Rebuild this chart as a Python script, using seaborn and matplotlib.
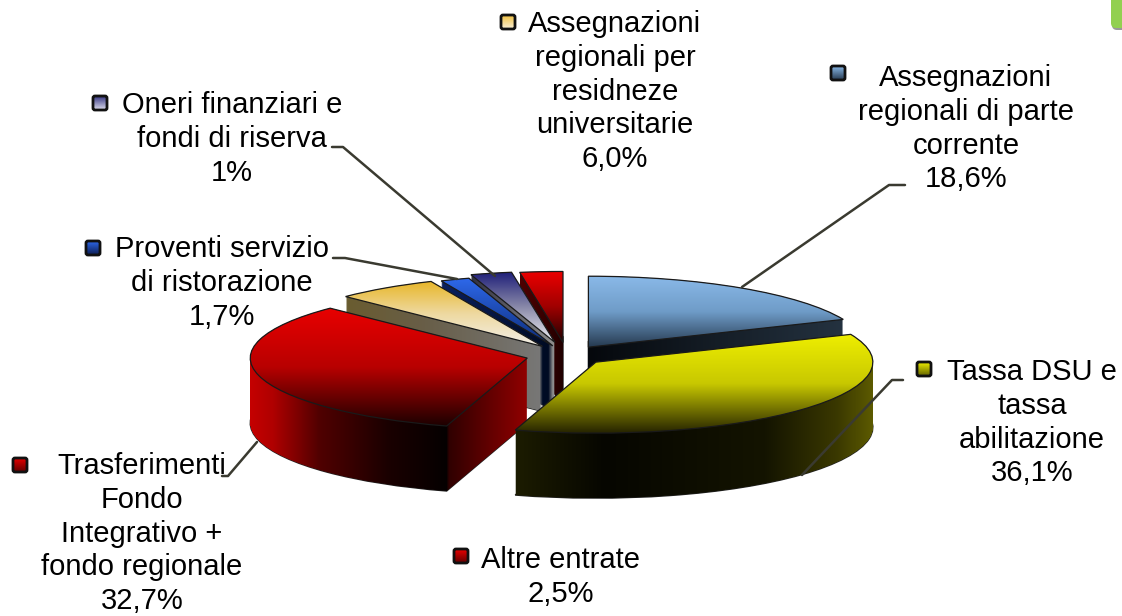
import numpy as np
import seaborn as sns
import matplotlib.pyplot as plt
from matplotlib.colors import LinearSegmentedColormap
from matplotlib.patches import PathPatch, FancyBboxPatch
from matplotlib.path import Path
from matplotlib.transforms import Affine2D

# dati (Oneri: etichetta 1%, ma la fetta disegnata vale circa 2,4)
categories = ['Assegnazioni regionali di parte corrente', 'Tassa DSU e tassa abilitazione',
              'Trasferimenti Fondo Integrativo + fondo regionale',
              'Assegnazioni regionali per residneze universitarie', 'Proventi servizio di ristorazione',
              'Oneri finanziari e fondi di riserva', 'Altre entrate']
values = [18.6, 36.1, 32.7, 6.0, 1.7, 2.4, 2.5]
value_labels = ['18,6%', '36,1%', '32,7%', '6,0%', '1,7%', '1%', '2,5%']
explode = [0.14, 0.14, 0.148, 0.155, 0.145, 0.19, 0.184]

# colori: (alto, basso) della faccia superiore e stop orizzontali del fianco
top_colors = [['#8ab9e8', '#6f9cc8', '#263a50'], ['#eeee00', '#c8c800', '#262400'], ['#e80000', '#b80000', '#1c0000'],
              ['#e8b628', '#eed9a0', '#f3efe8'], ['#2e68ea', '#0c2c78'], ['#1c1c78', '#8888a8', '#eeeef2'],
              ['#ec0000', '#a00000', '#200000']]
wall_colors = [[(0, '#05080c'), (1, '#243240')],
               [(0, '#1c1c00'), (.25, '#060600'), (.7, '#141400'), (.9, '#3a3800'), (1, '#5c5a00')],
               [(0, '#c40000'), (.08, '#b00000'), (.25, '#500000'), (.5, '#1a0000'), (.71, '#050000'),
                (.72, '#300000'), (1, '#900000')],
               [(0, '#6a5c30'), (.4, '#685e48'), (1, '#787878')],
               [(0, '#0a2060'), (1, '#000a20')], [(0, '#303040'), (1, '#909090')], [(0, '#500000'), (1, '#200000')]]
paint_order = [6, 5, 4, 3, 0, 2, 1]

W, H = 1122, 616
cx, cy, rx, ry, depth = 567, 355.5, 277, 71, 65

sns.set_theme(style='white')
plt.rcParams['font.family'] = ['Liberation Sans', 'DejaVu Sans']

fig = plt.figure(figsize=(W / 100, H / 100), dpi=100)
ax = fig.add_axes([0, 0, 1, 1])
wedges, _ = ax.pie(values, explode=explode, radius=1, startangle=90, counterclock=False)


def gradient(axis, cmap, box, horizontal, clip=None, z=1):
    g = np.linspace(0, 1, 256)
    g = g[None, :] if horizontal else g[:, None]
    im = axis.imshow(g, cmap=cmap, extent=box, origin='upper', aspect='auto', zorder=z, vmin=0, vmax=1)
    if clip is not None:
        im.set_clip_path(PathPatch(clip, transform=axis.transData, fc='none', ec='none'))
    return im


for i, k in enumerate(paint_order):
    w = wedges[k]
    top = w.get_patch_transform().transform_path(w.get_path())
    layers = [top.transformed(Affine2D().translate(0, -d / ry)) for d in range(depth + 1)]
    solid = Path.make_compound_path(*layers)
    z = 10 * i + 10
    ax.add_patch(PathPatch(layers[-1], fc='none', ec='#222222', lw=1.0, zorder=z))
    e = solid.get_extents()
    gradient(ax, LinearSegmentedColormap.from_list('w%d' % k, wall_colors[k]),
             (e.x0, e.x1, e.y0, e.y1), True, solid, z + 1)
    e = top.get_extents()
    gradient(ax, sns.blend_palette(top_colors[k], as_cmap=True), (e.x0, e.x1, e.y0, e.y1), False, top, z + 2)
    w.set_facecolor('none')
    w.set_edgecolor('#1a1a1a')
    w.set_linewidth(0.9)
    w.set_zorder(z + 3)

ax.set_aspect('auto')
ax.set_xlim(-cx / rx, (W - cx) / rx)
ax.set_ylim((cy - H) / ry, cy / ry)
ax.axis('off')

# sopra: etichette, linee guida e quadratini, in pixel
ov = fig.add_axes([0, 0, 1, 1], zorder=5)
ov.patch.set_alpha(0)

label_text = ['Assegnazioni\nregionali di parte\ncorrente\n', 'Tassa DSU e\ntassa\nabilitazione\n',
              'Trasferimenti\nFondo\nIntegrativo +\nfondo regionale\n', 'Assegnazioni\nregionali per\nresidneze\nuniversitarie\n',
              'Proventi servizio\ndi ristorazione\n', 'Oneri finanziari e\nfondi di riserva\n', 'Altre entrate\n']
label_xy = [(966, 64), (1032, 358), (142, 452), (615, 10), (222, 235), (232, 91), (561, 546)]
key_xy = [(838, 73), (924, 369), (20, 465), (508, 22), (93, 248), (100, 103), (461, 556)]
key_colors = [['#8ab9e8', '#263a50'], ['#f0f000', '#606000'], ['#e80000', '#600000'], ['#f0c040', '#f8efd8'],
              ['#2e68ea', '#0c1c50'], ['#33337f', '#e0e0f0'], ['#ec0000', '#600000']]
leaders = [[(742, 287), (889, 185), (905, 185)], [(802, 475), (892, 380), (903, 380)],
           [(257, 442), (228, 476), (222, 476)], [], [(457, 279), (345, 258), (333, 258)],
           [(495, 276), (343, 147), (332, 147)], []]

for i in range(len(categories)):
    ov.text(label_xy[i][0], label_xy[i][1], label_text[i] + value_labels[i], ha='center', va='top',
            fontsize=21, color='#000000', linespacing=1.265, zorder=20)
    if leaders[i]:
        ov.plot([p[0] for p in leaders[i]], [p[1] for p in leaders[i]], color='#3a3a30', lw=1.8, zorder=15)
    kx, ky = key_xy[i]
    gradient(ov, sns.blend_palette(key_colors[i], as_cmap=True), (kx - 7, kx + 7, ky + 7, ky - 7), False, z=16)
    ov.add_patch(FancyBboxPatch((kx - 7, ky - 7), 14, 14, boxstyle='round,pad=0,rounding_size=2',
                                fc='none', ec='#111111', lw=2.0, zorder=17))

# angolo verde in alto a destra
ov.add_patch(FancyBboxPatch((1112, -20), 30, 50, boxstyle='round,pad=0,rounding_size=5', fc='#999999', ec='none', zorder=2))
ov.add_patch(FancyBboxPatch((1111, -20), 30, 48, boxstyle='round,pad=0,rounding_size=5', fc='#92d050', ec='none', zorder=3))

ov.set_xlim(0, W)
ov.set_ylim(H, 0)
ov.axis('off')

fig.savefig('out.png', dpi=100)
